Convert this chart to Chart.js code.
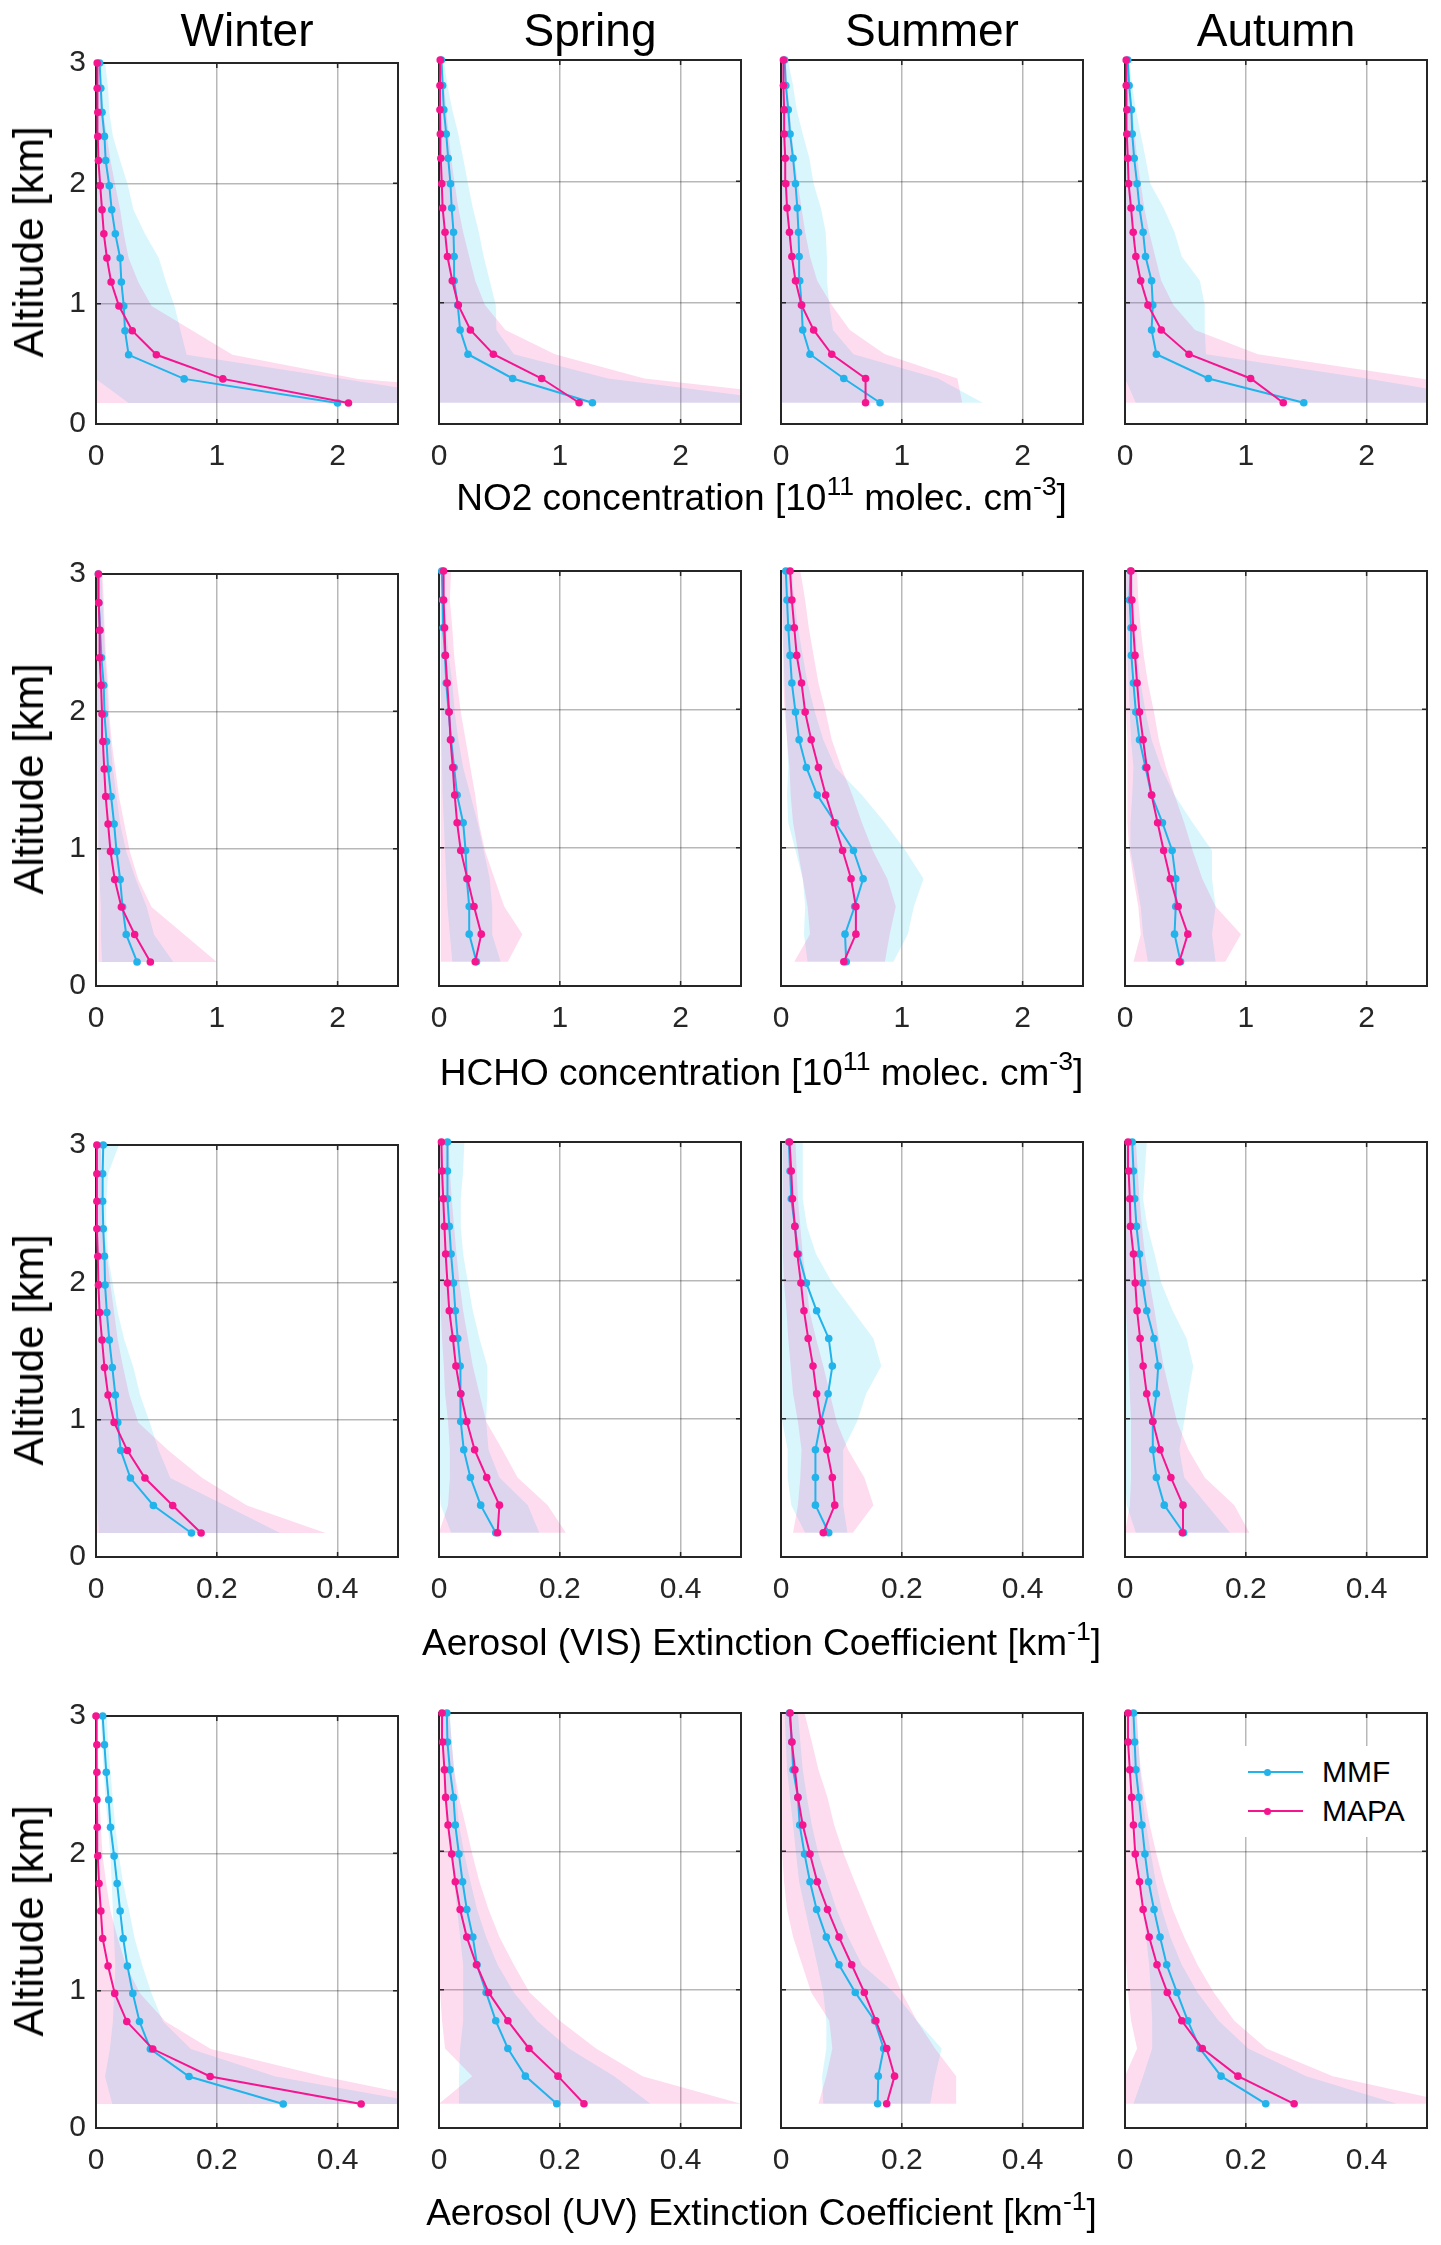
<!DOCTYPE html>
<html>
<head>
<meta charset="utf-8">
<script src="https://cdn.jsdelivr.net/npm/chart.js@4.4.1/dist/chart.umd.min.js"></script>
<style>
body { margin: 0; background: #fff; width: 1441px; height: 2245px; position: relative; overflow: hidden;
       font-family: "Liberation Sans", Arial, sans-serif; color: #000; }
.lbl { position: absolute; white-space: nowrap; line-height: 1; transform: translate(-50%, -50%); }
.lbl sup { font-size: 0.72em; position: relative; top: -0.55em; vertical-align: baseline; }
.panel { position: absolute; }
#legend { position: absolute; background: #fff; z-index: 5; }
</style>
</head>
<body>
<script>
// altitude levels (km), bottom to top
const altitudes = [0.175, 0.375, 0.575, 0.775, 0.98, 1.18, 1.38, 1.58, 1.78, 1.98, 2.19, 2.39, 2.59, 2.79, 3.0];
const seasons = ["Winter", "Spring", "Summer", "Autumn"];
const seriesNames = ["MMF", "MAPA"];
const seriesColors = ["#22b3ea", "#f5158f"];
const concTicks = [0, 1, 2];
const aerTicks = [0, 0.2, 0.4];
const altTicks = [0, 1, 2, 3];

/* ---- NO2 ---- */
const no2WinMmf = [2.0, 0.73, 0.27, 0.24, 0.23, 0.21, 0.20, 0.16, 0.13, 0.11, 0.08, 0.07, 0.05, 0.04, 0.03];
const no2WinMmfLo = [0.27, 0, 0, 0, 0, 0, 0, 0, 0, 0, 0, 0, 0, 0, 0];
const no2WinMmfHi = [3.3, 2.05, 0.75, 0.70, 0.65, 0.58, 0.52, 0.405, 0.31, 0.265, 0.20, 0.14, 0.11, 0.10, 0.076];
const no2WinMapa = [2.09, 1.05, 0.50, 0.30, 0.19, 0.125, 0.09, 0.065, 0.05, 0.035, 0.02, 0.015, 0.015, 0.01, 0.01];
const no2WinMapaLo = [0, 0, 0, 0, 0, 0, 0, 0, 0, 0, 0, 0, 0, 0, 0];
const no2WinMapaHi = [4.5, 2.17, 1.13, 0.8, 0.46, 0.35, 0.27, 0.23, 0.2, 0.16, 0.12, 0.09, 0.06, 0.04, 0.03];

const no2SprMmf = [1.27, 0.61, 0.24, 0.175, 0.155, 0.125, 0.125, 0.12, 0.105, 0.095, 0.076, 0.06, 0.04, 0.03, 0.02];
const no2SprMmfLo = [0, 0, 0, 0, 0, 0, 0, 0, 0, 0, 0, 0, 0, 0, 0];
const no2SprMmfHi = [3.0, 1.4, 0.62, 0.475, 0.47, 0.42, 0.37, 0.33, 0.28, 0.24, 0.2, 0.16, 0.11, 0.07, 0.04];
const no2SprMapa = [1.16, 0.85, 0.45, 0.26, 0.16, 0.11, 0.07, 0.05, 0.03, 0.023, 0.015, 0.011, 0.008, 0.008, 0.01];
const no2SprMapaLo = [0, 0, 0, 0, 0, 0, 0, 0, 0, 0, 0, 0, 0, 0, 0];
const no2SprMapaHi = [3.5, 1.7, 0.96, 0.55, 0.38, 0.3, 0.25, 0.2, 0.16, 0.13, 0.1, 0.08, 0.06, 0.04, 0.03];

const no2SumMmf = [0.82, 0.52, 0.24, 0.18, 0.17, 0.155, 0.15, 0.145, 0.135, 0.12, 0.10, 0.075, 0.06, 0.04, 0.03];
const no2SumMmfLo = [0, 0, 0, 0, 0, 0, 0, 0, 0, 0, 0, 0, 0, 0, 0];
const no2SumMmfHi = [1.67, 1.3, 0.6, 0.43, 0.40, 0.38, 0.38, 0.37, 0.33, 0.27, 0.235, 0.18, 0.13, 0.1, 0.057];
const no2SumMapa = [0.70, 0.70, 0.42, 0.27, 0.17, 0.12, 0.09, 0.07, 0.05, 0.04, 0.035, 0.026, 0.026, 0.02, 0.02];
const no2SumMapaLo = [0, 0, 0, 0, 0, 0, 0, 0, 0, 0, 0, 0, 0, 0, 0];
const no2SumMapaHi = [1.5, 1.46, 0.86, 0.57, 0.42, 0.3, 0.24, 0.2, 0.17, 0.14, 0.11, 0.09, 0.07, 0.05, 0.04];

const no2AutMmf = [1.48, 0.69, 0.26, 0.22, 0.23, 0.22, 0.17, 0.15, 0.12, 0.10, 0.076, 0.06, 0.053, 0.034, 0.023];
const no2AutMmfLo = [0.09, 0, 0, 0, 0, 0, 0, 0, 0, 0, 0, 0, 0, 0, 0];
const no2AutMmfHi = [3.2, 2.0, 0.67, 0.66, 0.66, 0.62, 0.47, 0.41, 0.32, 0.21, 0.17, 0.13, 0.09, 0.06, 0.034];
const no2AutMapa = [1.31, 1.04, 0.53, 0.30, 0.19, 0.13, 0.09, 0.068, 0.05, 0.03, 0.023, 0.015, 0.015, 0.01, 0.01];
const no2AutMapaLo = [0, 0, 0, 0, 0, 0, 0, 0, 0, 0, 0, 0, 0, 0, 0];
const no2AutMapaHi = [3.6, 2.45, 1.1, 0.58, 0.4, 0.3, 0.25, 0.2, 0.16, 0.13, 0.1, 0.08, 0.06, 0.04, 0.03];

/* ---- HCHO ---- */
const hchoWinMmf = [0.34, 0.25, 0.22, 0.20, 0.17, 0.15, 0.125, 0.10, 0.087, 0.07, 0.064, 0.045, 0.034, 0.023, 0.02];
const hchoWinMmfLo = [0.05, 0.04, 0.04, 0.03, 0.02, 0.02, 0.015, 0.015, 0.01, 0.01, 0.01, 0.01, 0.005, 0.005, 0.005];
const hchoWinMmfHi = [0.64, 0.48, 0.42, 0.33, 0.25, 0.2, 0.17, 0.14, 0.12, 0.1, 0.09, 0.075, 0.065, 0.055, 0.045];
const hchoWinMapa = [0.45, 0.32, 0.21, 0.155, 0.12, 0.10, 0.08, 0.068, 0.057, 0.05, 0.042, 0.03, 0.03, 0.023, 0.02];
const hchoWinMapaLo = [0.02, 0.02, 0.02, 0.02, 0.015, 0.01, 0.01, 0.01, 0.005, 0.005, 0.005, 0.005, 0, 0, 0];
const hchoWinMapaHi = [1.0, 0.73, 0.46, 0.35, 0.28, 0.235, 0.19, 0.16, 0.13, 0.11, 0.1, 0.083, 0.072, 0.065, 0.053];

const hchoSprMmf = [0.31, 0.25, 0.25, 0.23, 0.22, 0.20, 0.15, 0.125, 0.10, 0.08, 0.06, 0.05, 0.034, 0.03, 0.023];
const hchoSprMmfLo = [0.11, 0.09, 0.07, 0.06, 0.05, 0.04, 0.03, 0.025, 0.02, 0.02, 0.015, 0.01, 0.01, 0.01, 0.01];
const hchoSprMmfHi = [0.51, 0.44, 0.44, 0.42, 0.37, 0.32, 0.26, 0.2, 0.16, 0.13, 0.11, 0.08, 0.06, 0.05, 0.04];
const hchoSprMapa = [0.30, 0.35, 0.29, 0.235, 0.18, 0.15, 0.13, 0.114, 0.095, 0.084, 0.068, 0.053, 0.046, 0.038, 0.038];
const hchoSprMapaLo = [0.015, 0.015, 0.015, 0.015, 0.015, 0.015, 0.015, 0.015, 0.015, 0.015, 0.015, 0.015, 0.015, 0.015, 0.015];
const hchoSprMapaHi = [0.57, 0.69, 0.54, 0.46, 0.38, 0.33, 0.3, 0.26, 0.22, 0.18, 0.15, 0.125, 0.11, 0.09, 0.1];

const hchoSumMmf = [0.54, 0.53, 0.61, 0.68, 0.60, 0.45, 0.30, 0.21, 0.15, 0.12, 0.09, 0.075, 0.06, 0.05, 0.04];
const hchoSumMmfLo = [0.22, 0.19, 0.2, 0.18, 0.12, 0.06, 0.05, 0.06, 0.05, 0.04, 0.03, 0.02, 0.02, 0.01, 0.01];
const hchoSumMmfHi = [0.93, 1.05, 1.1, 1.18, 1.03, 0.86, 0.67, 0.45, 0.35, 0.28, 0.22, 0.18, 0.14, 0.11, 0.09];
const hchoSumMapa = [0.52, 0.62, 0.62, 0.58, 0.51, 0.44, 0.37, 0.31, 0.25, 0.2, 0.17, 0.13, 0.11, 0.09, 0.075];
const hchoSumMapaLo = [0.11, 0.24, 0.22, 0.18, 0.14, 0.1, 0.08, 0.07, 0.05, 0.03, 0.02, 0.02, 0.01, 0.01, 0.01];
const hchoSumMapaHi = [0.86, 0.9, 0.95, 0.88, 0.76, 0.67, 0.59, 0.5, 0.42, 0.37, 0.31, 0.27, 0.23, 0.2, 0.16];

const hchoAutMmf = [0.46, 0.41, 0.42, 0.42, 0.39, 0.31, 0.22, 0.17, 0.12, 0.09, 0.07, 0.053, 0.05, 0.038, 0.045];
const hchoAutMmfLo = [0.19, 0.15, 0.13, 0.09, 0.045, 0.045, 0.06, 0.07, 0.05, 0.04, 0.03, 0.02, 0.02, 0.01, 0.01];
const hchoAutMmfHi = [0.75, 0.72, 0.75, 0.72, 0.72, 0.56, 0.41, 0.3, 0.22, 0.17, 0.13, 0.1, 0.083, 0.07, 0.065];
const hchoAutMapa = [0.45, 0.52, 0.44, 0.375, 0.32, 0.27, 0.22, 0.18, 0.15, 0.12, 0.1, 0.083, 0.068, 0.057, 0.05];
const hchoAutMapaLo = [0.07, 0.13, 0.11, 0.07, 0.035, 0.02, 0.02, 0.02, 0.02, 0.01, 0.01, 0.01, 0.01, 0.005, 0.005];
const hchoAutMapaHi = [0.83, 0.96, 0.75, 0.64, 0.56, 0.49, 0.41, 0.34, 0.28, 0.24, 0.19, 0.155, 0.13, 0.11, 0.1];

/* ---- Aerosol VIS ---- */
const visWinMmf = [0.158, 0.095, 0.057, 0.041, 0.036, 0.032, 0.027, 0.022, 0.018, 0.015, 0.014, 0.012, 0.011, 0.011, 0.012];
const visWinMmfLo = [0.005, 0.002, 0, 0, 0, 0, 0, 0, 0, 0, 0, 0, 0, 0, 0];
const visWinMmfHi = [0.305, 0.214, 0.123, 0.104, 0.089, 0.073, 0.062, 0.047, 0.036, 0.028, 0.02, 0.018, 0.017, 0.02, 0.038];
const visWinMapa = [0.174, 0.127, 0.081, 0.052, 0.03, 0.02, 0.014, 0.01, 0.006, 0.004, 0.003, 0.0015, 0.0015, 0.0015, 0.0015];
const visWinMapaLo = [0, 0, 0, 0, 0, 0, 0, 0, 0, 0, 0, 0, 0, 0, 0];
const visWinMapaHi = [0.38, 0.25, 0.176, 0.12, 0.07, 0.055, 0.045, 0.036, 0.03, 0.024, 0.018, 0.013, 0.01, 0.009, 0.008];

const visSprMmf = [0.094, 0.069, 0.052, 0.041, 0.036, 0.036, 0.035, 0.031, 0.027, 0.024, 0.02, 0.017, 0.014, 0.014, 0.014];
const visSprMmfLo = [0.02, 0.003, 0, 0, 0, 0, 0, 0, 0, 0, 0, 0, 0, 0, 0];
const visSprMmfHi = [0.166, 0.147, 0.1, 0.082, 0.078, 0.08, 0.08, 0.067, 0.056, 0.048, 0.04, 0.036, 0.036, 0.04, 0.042];
const visSprMapa = [0.097, 0.10, 0.079, 0.059, 0.046, 0.036, 0.028, 0.023, 0.017, 0.014, 0.011, 0.009, 0.007, 0.005, 0.004];
const visSprMapaLo = [0, 0.015, 0.018, 0.018, 0.015, 0.01, 0.008, 0.005, 0.003, 0.002, 0, 0, 0, 0, 0];
const visSprMapaHi = [0.21, 0.18, 0.13, 0.105, 0.078, 0.067, 0.056, 0.048, 0.04, 0.034, 0.029, 0.025, 0.021, 0.018, 0.016];

const visSumMmf = [0.079, 0.057, 0.057, 0.057, 0.066, 0.078, 0.085, 0.079, 0.059, 0.042, 0.029, 0.023, 0.017, 0.015, 0.013];
const visSumMmfLo = [0.04, 0.017, 0.011, 0.011, 0.002, 0.002, 0.003, 0.003, 0.002, 0.002, 0.002, 0.002, 0.002, 0.002, 0.002];
const visSumMmfHi = [0.11, 0.103, 0.103, 0.103, 0.126, 0.141, 0.166, 0.153, 0.119, 0.085, 0.058, 0.043, 0.036, 0.036, 0.036];
const visSumMapa = [0.07, 0.089, 0.085, 0.076, 0.066, 0.059, 0.053, 0.045, 0.038, 0.033, 0.027, 0.023, 0.019, 0.017, 0.014];
const visSumMapaLo = [0.02, 0.028, 0.032, 0.034, 0.028, 0.02, 0.016, 0.012, 0.009, 0.005, 0.003, 0.003, 0.003, 0.003, 0.003];
const visSumMapaHi = [0.119, 0.153, 0.138, 0.111, 0.092, 0.081, 0.07, 0.058, 0.047, 0.042, 0.036, 0.032, 0.028, 0.026, 0.024];

const visAutMmf = [0.097, 0.065, 0.052, 0.046, 0.046, 0.052, 0.055, 0.048, 0.036, 0.029, 0.024, 0.019, 0.016, 0.014, 0.012];
const visAutMmfLo = [0.018, 0.003, 0, 0, 0, 0, 0, 0, 0, 0, 0, 0, 0, 0, 0];
const visAutMmfHi = [0.174, 0.136, 0.098, 0.09, 0.098, 0.105, 0.113, 0.102, 0.079, 0.06, 0.049, 0.037, 0.03, 0.033, 0.036];
const visAutMapa = [0.095, 0.096, 0.076, 0.058, 0.046, 0.036, 0.03, 0.025, 0.02, 0.017, 0.014, 0.009, 0.008, 0.006, 0.005];
const visAutMapaLo = [0, 0.008, 0.01, 0.01, 0.01, 0.008, 0.006, 0.004, 0.002, 0, 0, 0, 0, 0, 0];
const visAutMapaHi = [0.206, 0.181, 0.132, 0.105, 0.086, 0.075, 0.064, 0.056, 0.049, 0.041, 0.033, 0.028, 0.024, 0.021, 0.018];

/* ---- Aerosol UV ---- */
const uvWinMmf = [0.31, 0.154, 0.09, 0.072, 0.061, 0.052, 0.045, 0.04, 0.035, 0.03, 0.024, 0.021, 0.017, 0.014, 0.011];
const uvWinMmfLo = [0.027, 0.015, 0.023, 0.028, 0.03, 0.032, 0.03, 0.028, 0.026, 0.024, 0.02, 0.016, 0.013, 0.01, 0.008];
const uvWinMmfHi = [0.55, 0.297, 0.157, 0.111, 0.092, 0.077, 0.064, 0.055, 0.045, 0.038, 0.032, 0.028, 0.024, 0.02, 0.018];
const uvWinMapa = [0.439, 0.189, 0.094, 0.051, 0.031, 0.02, 0.011, 0.008, 0.005, 0.003, 0.002, 0.0015, 0.0015, 0.0015, 0];
const uvWinMapaLo = [0, 0, 0, 0, 0, 0, 0, 0, 0, 0, 0, 0, 0, 0, 0];
const uvWinMapaHi = [0.6, 0.377, 0.19, 0.115, 0.073, 0.05, 0.036, 0.024, 0.017, 0.011, 0.008, 0.006, 0.004, 0.003, 0.003];

const uvSprMmf = [0.195, 0.143, 0.114, 0.094, 0.078, 0.063, 0.056, 0.046, 0.039, 0.033, 0.027, 0.024, 0.018, 0.014, 0.013];
const uvSprMmfLo = [0.033, 0.033, 0.035, 0.04, 0.04, 0.04, 0.035, 0.03, 0.025, 0.02, 0.015, 0.012, 0.01, 0.008, 0.006];
const uvSprMmfHi = [0.35, 0.29, 0.215, 0.162, 0.124, 0.097, 0.078, 0.063, 0.052, 0.042, 0.033, 0.029, 0.025, 0.021, 0.018];
const uvSprMapa = [0.24, 0.197, 0.149, 0.114, 0.082, 0.062, 0.046, 0.035, 0.027, 0.021, 0.015, 0.011, 0.009, 0.006, 0.005];
const uvSprMapaLo = [0, 0.055, 0.01, 0.005, 0.002, 0, 0, 0, 0, 0, 0, 0, 0, 0, 0];
const uvSprMapaHi = [0.5, 0.337, 0.26, 0.2, 0.15, 0.124, 0.1, 0.082, 0.067, 0.055, 0.044, 0.033, 0.025, 0.021, 0.017];

const uvSumMmf = [0.16, 0.161, 0.17, 0.155, 0.123, 0.096, 0.075, 0.059, 0.048, 0.039, 0.031, 0.028, 0.02, 0.018, 0.014];
const uvSumMmfLo = [0.07, 0.068, 0.075, 0.075, 0.07, 0.06, 0.05, 0.04, 0.03, 0.025, 0.02, 0.015, 0.01, 0.008, 0.006];
const uvSumMmfHi = [0.247, 0.255, 0.266, 0.225, 0.187, 0.134, 0.111, 0.092, 0.077, 0.062, 0.051, 0.043, 0.036, 0.032, 0.028];
const uvSumMapa = [0.175, 0.188, 0.175, 0.157, 0.138, 0.117, 0.096, 0.077, 0.06, 0.048, 0.036, 0.028, 0.023, 0.018, 0.015];
const uvSumMapaLo = [0.062, 0.075, 0.085, 0.08, 0.05, 0.035, 0.02, 0.01, 0.005, 0.003, 0.002, 0.002, 0.002, 0.002, 0.002];
const uvSumMapaHi = [0.29, 0.29, 0.255, 0.225, 0.2, 0.18, 0.16, 0.141, 0.122, 0.104, 0.088, 0.077, 0.062, 0.051, 0.039];

const uvAutMmf = [0.233, 0.159, 0.124, 0.104, 0.086, 0.069, 0.058, 0.048, 0.039, 0.033, 0.028, 0.023, 0.018, 0.016, 0.014];
const uvAutMmfLo = [0.014, 0.03, 0.045, 0.045, 0.043, 0.04, 0.035, 0.03, 0.025, 0.02, 0.017, 0.014, 0.012, 0.01, 0.01];
const uvAutMmfHi = [0.45, 0.3, 0.204, 0.155, 0.12, 0.094, 0.075, 0.061, 0.051, 0.043, 0.035, 0.029, 0.025, 0.022, 0.02];
const uvAutMapa = [0.28, 0.187, 0.128, 0.094, 0.07, 0.053, 0.04, 0.03, 0.024, 0.017, 0.014, 0.011, 0.008, 0.005, 0.005];
const uvAutMapaLo = [0, 0, 0.02, 0.01, 0.005, 0.002, 0, 0, 0, 0, 0, 0, 0, 0, 0];
const uvAutMapaHi = [0.55, 0.344, 0.234, 0.181, 0.147, 0.12, 0.098, 0.079, 0.064, 0.052, 0.041, 0.033, 0.026, 0.022, 0.019];

/* layout of the figure */
const colLeft = [96, 439, 781, 1125];
const rowTop = [60, 571, 1142, 1713];
const rowH = [364, 415, 415, 415];
const PW = 302;   // plot width
const AX = 70;    // room for axis labels
const PAD = 25;

const FONT = "'Liberation Sans', Arial, sans-serif";
const GRID = "rgba(0,0,0,0.28)";

const rowsInfo = [
    { xMax: 2.5, ticks: concTicks, label: "NO2 concentration [10<sup>11</sup> molec. cm<sup>-3</sup>]", labelY: 497,
      sets: [
        [no2WinMmf, no2WinMmfLo, no2WinMmfHi, no2WinMapa, no2WinMapaLo, no2WinMapaHi],
        [no2SprMmf, no2SprMmfLo, no2SprMmfHi, no2SprMapa, no2SprMapaLo, no2SprMapaHi],
        [no2SumMmf, no2SumMmfLo, no2SumMmfHi, no2SumMapa, no2SumMapaLo, no2SumMapaHi],
        [no2AutMmf, no2AutMmfLo, no2AutMmfHi, no2AutMapa, no2AutMapaLo, no2AutMapaHi]] },
    { xMax: 2.5, ticks: concTicks, label: "HCHO concentration [10<sup>11</sup> molec. cm<sup>-3</sup>]", labelY: 1072,
      sets: [
        [hchoWinMmf, hchoWinMmfLo, hchoWinMmfHi, hchoWinMapa, hchoWinMapaLo, hchoWinMapaHi],
        [hchoSprMmf, hchoSprMmfLo, hchoSprMmfHi, hchoSprMapa, hchoSprMapaLo, hchoSprMapaHi],
        [hchoSumMmf, hchoSumMmfLo, hchoSumMmfHi, hchoSumMapa, hchoSumMapaLo, hchoSumMapaHi],
        [hchoAutMmf, hchoAutMmfLo, hchoAutMmfHi, hchoAutMapa, hchoAutMapaLo, hchoAutMapaHi]] },
    { xMax: 0.5, ticks: aerTicks, label: "Aerosol (VIS) Extinction Coefficient [km<sup>-1</sup>]", labelY: 1642,
      sets: [
        [visWinMmf, visWinMmfLo, visWinMmfHi, visWinMapa, visWinMapaLo, visWinMapaHi],
        [visSprMmf, visSprMmfLo, visSprMmfHi, visSprMapa, visSprMapaLo, visSprMapaHi],
        [visSumMmf, visSumMmfLo, visSumMmfHi, visSumMapa, visSumMapaLo, visSumMapaHi],
        [visAutMmf, visAutMmfLo, visAutMmfHi, visAutMapa, visAutMapaLo, visAutMapaHi]] },
    { xMax: 0.5, ticks: aerTicks, label: "Aerosol (UV) Extinction Coefficient [km<sup>-1</sup>]", labelY: 2212,
      sets: [
        [uvWinMmf, uvWinMmfLo, uvWinMmfHi, uvWinMapa, uvWinMapaLo, uvWinMapaHi],
        [uvSprMmf, uvSprMmfLo, uvSprMmfHi, uvSprMapa, uvSprMapaLo, uvSprMapaHi],
        [uvSumMmf, uvSumMmfLo, uvSumMmfHi, uvSumMapa, uvSumMapaLo, uvSumMapaHi],
        [uvAutMmf, uvAutMmfLo, uvAutMmfHi, uvAutMapa, uvAutMapaLo, uvAutMapaHi]] }
];

function pts(vals) {
    return vals.map((v, i) => ({ x: v, y: altitudes[i] }));
}
// closed polygon: upper bound going up, lower bound coming back down
function band(lo, hi) {
    return pts(hi).concat(pts(lo).reverse());
}

function addLabel(html, x, y, size, extra) {
    const d = document.createElement("div");
    d.className = "lbl";
    d.innerHTML = html;
    d.style.left = x + "px";
    d.style.top = y + "px";
    d.style.fontSize = size + "px";
    if (extra) d.style.transform = extra;
    document.body.appendChild(d);
    return d;
}

/* box round the plot, with small inward ticks like the original */
const frame = {
    id: "frame",
    beforeDatasetsDraw(chart) {
        const { ctx, chartArea: a, scales } = chart;
        ctx.save();
        ctx.strokeStyle = "#262626";
        ctx.lineWidth = 2;
        ctx.strokeRect(a.left, a.top, a.right - a.left, a.bottom - a.top);
        ctx.lineWidth = 1.5;
        ctx.beginPath();
        scales.y.ticks.forEach(t => {
            const p = scales.y.getPixelForValue(t.value);
            ctx.moveTo(a.left, p); ctx.lineTo(a.left + 5, p);
            ctx.moveTo(a.right, p); ctx.lineTo(a.right - 5, p);
        });
        scales.x.ticks.forEach(t => {
            const p = scales.x.getPixelForValue(t.value);
            ctx.moveTo(p, a.bottom); ctx.lineTo(p, a.bottom - 5);
            ctx.moveTo(p, a.top); ctx.lineTo(p, a.top + 5);
        });
        ctx.stroke();
        ctx.restore();
    }
};

function lineSet(name, vals, color) {
    return {
        label: name, data: pts(vals),
        borderColor: color, backgroundColor: color,
        borderWidth: 2, pointRadius: 3.8, pointBorderWidth: 0,
        fill: false, clip: false
    };
}
function bandSet(lo, hi, color) {
    return {
        data: band(lo, hi), borderWidth: 0, borderColor: "transparent",
        pointRadius: 0, fill: "shape", backgroundColor: color
    };
}

function createPanel(r, c) {
    const info = rowsInfo[r];
    const [mmf, mmfLo, mmfHi, mapa, mapaLo, mapaHi] = info.sets[c];
    const w = PW + AX + PAD, h = rowH[r] + PAD + AX;

    const box = document.createElement("div");
    box.className = "panel";
    box.style.left = (colLeft[c] - AX) + "px";
    box.style.top = (rowTop[r] - PAD) + "px";
    const cv = document.createElement("canvas");
    cv.width = w; cv.height = h;
    cv.style.width = w + "px"; cv.style.height = h + "px";
    box.appendChild(cv);
    document.body.appendChild(box);

    const tickFont = { family: FONT, size: 30 };
    new Chart(cv, {
        type: "line",
        data: {
            datasets: [
                lineSet(seriesNames[1], mapa, seriesColors[1]),
                lineSet(seriesNames[0], mmf, seriesColors[0]),
                bandSet(mapaLo, mapaHi, "rgba(240,20,150,0.15)"),
                bandSet(mmfLo, mmfHi, "rgba(20,200,240,0.16)")
            ]
        },
        options: {
            responsive: false,
            animation: false,
            events: [],
            layout: { padding: { top: PAD, right: PAD, left: 0, bottom: 0 } },
            plugins: {
                legend: { display: false },
                tooltip: { enabled: false },
                filler: { drawTime: "beforeDatasetsDraw" }
            },
            scales: {
                x: {
                    type: "linear", min: 0, max: info.xMax,
                    afterFit: s => { s.height = AX; },
                    afterBuildTicks: s => { s.ticks = info.ticks.map(v => ({ value: v })); },
                    ticks: { font: tickFont, color: "#262626", padding: 15, maxRotation: 0, callback: v => String(v) },
                    grid: { color: GRID, lineWidth: 1.5, drawTicks: false },
                    border: { display: false }
                },
                y: {
                    type: "linear", min: 0, max: 3,
                    afterFit: s => { s.width = AX; },
                    afterBuildTicks: s => { s.ticks = altTicks.map(v => ({ value: v })); },
                    ticks: { display: c === 0, font: tickFont, color: "#262626", padding: 10, callback: v => String(v) },
                    grid: { color: GRID, lineWidth: 1.5, drawTicks: false },
                    border: { display: false }
                }
            }
        },
        plugins: [frame]
    });
}

for (let r = 0; r < 4; r++) {
    for (let c = 0; c < 4; c++) createPanel(r, c);
    addLabel(rowsInfo[r].label, (colLeft[0] + colLeft[3] + PW) / 2, rowsInfo[r].labelY, 37);
    addLabel("Altitude [km]", 29, rowTop[r] + rowH[r] / 2, 42, "translate(-50%,-50%) rotate(-90deg)");
}
seasons.forEach((s, c) => addLabel(s, colLeft[c] + PW / 2, 30, 46));

/* legend inside the autumn UV panel */
const legend = document.createElement("div");
legend.id = "legend";
Object.assign(legend.style, { left: "1240px", top: "1746px", width: "186px", height: "91px" });
seriesNames.forEach((name, i) => {
    const y = i === 0 ? 26 : 65;
    const ln = document.createElement("div");
    Object.assign(ln.style, { position: "absolute", left: "8px", top: (y - 1) + "px", width: "55px", height: "2px", background: seriesColors[i] });
    const dot = document.createElement("div");
    Object.assign(dot.style, { position: "absolute", left: "24px", top: (y - 3.5) + "px", width: "7px", height: "7px", borderRadius: "50%", background: seriesColors[i] });
    const tx = document.createElement("div");
    Object.assign(tx.style, { position: "absolute", left: "82px", top: y + "px", fontSize: "30px", lineHeight: "1", transform: "translateY(-50%)" });
    tx.textContent = name;
    legend.append(ln, dot, tx);
});
document.body.appendChild(legend);
</script>
</body>
</html>
